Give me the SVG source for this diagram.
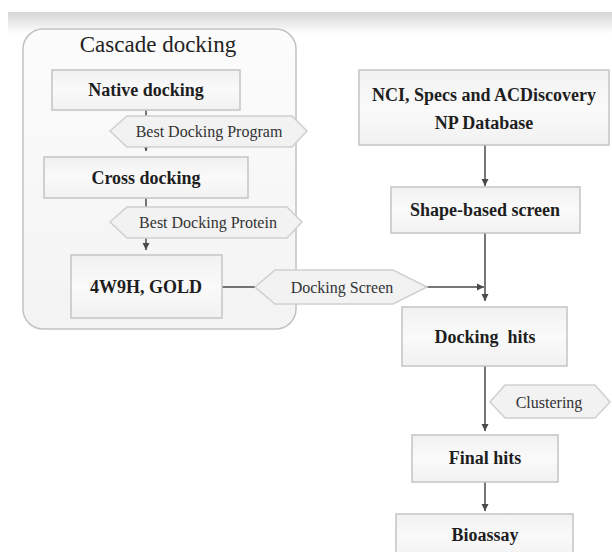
<svg xmlns="http://www.w3.org/2000/svg" width="612" height="552" viewBox="0 0 612 552">
<defs>
<linearGradient id="band" x1="0" y1="0" x2="0" y2="1">
<stop offset="0" stop-color="#d6d6d6"/>
<stop offset="1" stop-color="#ffffff"/>
</linearGradient>
<linearGradient id="cont" x1="0" y1="0" x2="0" y2="1">
<stop offset="0" stop-color="#fcfcfc"/>
<stop offset="1" stop-color="#f3f3f3"/>
</linearGradient>
<linearGradient id="boxg" x1="0" y1="0" x2="0" y2="1">
<stop offset="0" stop-color="#f1f1f1"/>
<stop offset="0.5" stop-color="#fafafa"/>
<stop offset="1" stop-color="#f1f1f1"/>
</linearGradient>
<marker id="arr" markerUnits="userSpaceOnUse" markerWidth="8" markerHeight="8" refX="7" refY="4" orient="auto">
<path d="M0,0.5 L7,4 L0,7.5 z" fill="#4a4a4a"/>
</marker>
</defs>
<style>
.box{fill:url(#boxg);stroke:#c4c4c4;stroke-width:1.5}
.hex{fill:#f2f2f2;stroke:#cfcfcf;stroke-width:1.5}
.bt{font-family:"Liberation Serif","Times New Roman",serif;font-weight:bold;font-size:18px;fill:#1e1e1e;text-anchor:middle}
.ht{font-family:"Liberation Serif","Times New Roman",serif;font-size:16px;fill:#333;text-anchor:middle}
.ln{stroke:#4a4a4a;stroke-width:1.5;fill:none}
</style>
<rect x="0" y="0" width="612" height="552" fill="#ffffff"/>
<rect x="8" y="12" width="604" height="22" fill="url(#band)"/>

<g id="cascade">
<rect x="23" y="29" width="273" height="300" rx="20" fill="url(#cont)" stroke="#c2c2c2" stroke-width="1.5"/>
<text x="158" y="52" font-family="'Liberation Serif','Times New Roman',serif" font-size="23" fill="#222" text-anchor="middle">Cascade docking</text>
</g>

<g id="connectors">
<line class="ln" x1="146" y1="110" x2="146" y2="151" marker-end="url(#arr)"/>
<line class="ln" x1="146" y1="198" x2="146" y2="250" marker-end="url(#arr)"/>
<line class="ln" x1="222" y1="287" x2="484" y2="287" marker-end="url(#arr)"/>
<line class="ln" x1="485" y1="145" x2="485" y2="186" marker-end="url(#arr)"/>
<line class="ln" x1="485" y1="233" x2="485" y2="301" marker-end="url(#arr)"/>
<line class="ln" x1="485" y1="366" x2="485" y2="431" marker-end="url(#arr)"/>
<line class="ln" x1="485" y1="482" x2="485" y2="511" marker-end="url(#arr)"/>
</g>

<g id="native">
<rect class="box" x="52" y="70" width="188" height="40"/>
<text class="bt" x="146" y="96">Native docking</text>
</g>
<g id="hex-program">
<polygon class="hex" points="110,131 127,116 292,116 307,131 292,147 127,147"/>
<text class="ht" x="209" y="137">Best Docking Program</text>
</g>
<g id="cross">
<rect class="box" x="44" y="157" width="204" height="41"/>
<text class="bt" x="146" y="184">Cross docking</text>
</g>
<g id="hex-protein">
<polygon class="hex" points="110,222 127,207 287,207 302,222 287,238 127,238"/>
<text class="ht" x="208" y="228">Best Docking Protein</text>
</g>
<g id="gold">
<rect class="box" x="71" y="255" width="151" height="63"/>
<text class="bt" x="146" y="293">4W9H, GOLD</text>
</g>
<g id="hex-screen">
<polygon class="hex" points="255,287 275,270 393,270 427,287 393,304 275,304"/>
<text class="ht" x="342" y="293">Docking Screen</text>
</g>
<g id="nci">
<rect class="box" x="359" y="70" width="250" height="75"/>
<text class="bt" x="484" y="101">NCI, Specs and ACDiscovery</text>
<text class="bt" x="484" y="129">NP Database</text>
</g>
<g id="shape">
<rect class="box" x="391" y="187" width="189" height="46"/>
<text class="bt" x="485" y="216">Shape-based screen</text>
</g>
<g id="dockhits">
<rect class="box" x="402" y="307" width="165" height="59"/>
<text class="bt" x="485" y="343" xml:space="preserve">Docking  hits</text>
</g>
<g id="hex-cluster">
<polygon class="hex" points="490,402 505,385 595,385 610,402 595,418 505,418"/>
<text class="ht" x="549" y="408">Clustering</text>
</g>
<g id="final">
<rect class="box" x="412" y="435" width="146" height="47"/>
<text class="bt" x="485" y="464">Final hits</text>
</g>
<g id="bioassay">
<rect class="box" x="396" y="514" width="177" height="46"/>
<text class="bt" x="485" y="541">Bioassay</text>
</g>
</svg>
